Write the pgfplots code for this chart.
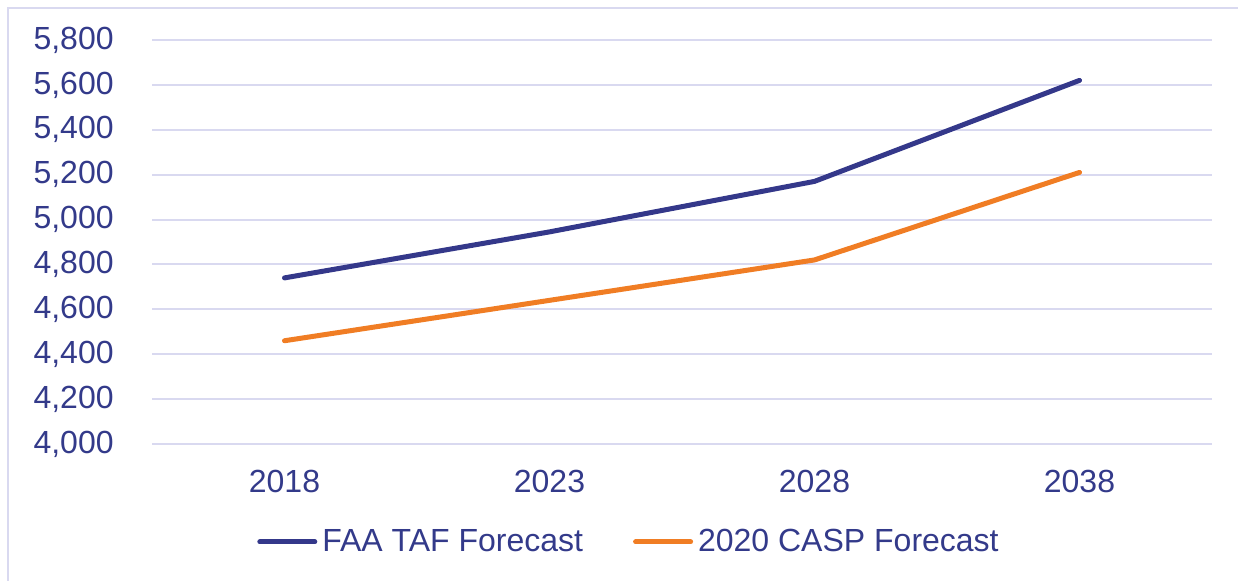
\documentclass[border=0pt]{standalone}
\usepackage{pgfplots}
\pgfplotsset{compat=1.18}
\usepackage{fontspec}
\setmainfont{Liberation Sans}
\definecolor{txtblue}{RGB}{51,58,138}
\definecolor{faablue}{RGB}{52,56,138}
\definecolor{caspor}{RGB}{240,125,36}
\definecolor{gridcol}{RGB}{217,217,240}

\begin{document}
\begin{tikzpicture}
\path[use as bounding box] (0,0) rectangle (619pt,290.5pt);
\draw[gridcol, line width=1pt] (4pt,0) -- (4pt,286.5pt) -- (619pt,286.5pt);
\begin{axis}[
    at={(76pt,68.5pt)}, anchor=south west,
    scale only axis, width=530pt, height=202pt,
    xmin=-0.5, xmax=3.5,
    ymin=4000, ymax=5800,
    xtick={0,1,2,3},
    xticklabels={2018,2023,2028,2038},
    ytick={4000,4200,...,5800},
    axis line style={draw=none},
    major tick length=0pt,
    ymajorgrids, grid style={gridcol, line width=1pt},
    /pgf/number format/.cd, 1000 sep={,}, assume math mode=true,
    /pgfplots/.cd,
    every tick label/.append style={font=\fontsize{16}{19}\selectfont, text=txtblue, inner sep=0pt},
    yticklabel style={xshift=-19pt},
    xticklabel style={yshift=-13pt},
    clip=false,
    legend columns=2,
    legend image code/.code={\draw[#1, line cap=round] (0pt,0pt) -- (27.5pt,0pt);},
    legend style={at={(0.5,0)}, anchor=center, xshift=-27pt, yshift=-49pt,
        draw=none, fill=none, inner sep=0pt,
        font=\fontsize{16}{19}\selectfont, text=txtblue,
        nodes={inner sep=0pt},
        /tikz/every odd column/.append style={column sep=2.5pt},
        /tikz/every even column/.append style={column sep=25pt}},
]
\addplot[faablue, line width=2.5pt, line cap=round, line join=round] coordinates {
    (0,4740) (1,4945) (2,5170) (3,5620)
};
\addlegendentry{FAA TAF Forecast}
\addplot[caspor, line width=2.5pt, line cap=round, line join=round] coordinates {
    (0,4460) (1,4640) (2,4820) (3,5210)
};
\addlegendentry{2020 CASP Forecast}
\end{axis}
\end{tikzpicture}
\end{document}
